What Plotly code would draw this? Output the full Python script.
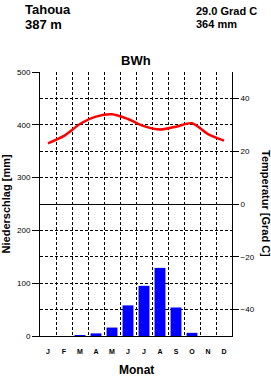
import plotly.graph_objects as go

months = list(range(1, 13))
month_labels = ["J", "F", "M", "A", "M", "J", "J", "A", "S", "O", "N", "D"]
precip_mm = [0, 0, 1, 5, 16, 58, 95, 129, 54, 6, 0, 0]
temp_c = [23.0, 25.8, 30.3, 33.1, 34.0, 32.2, 29.5, 28.2, 29.3, 30.6, 26.5, 24.0]
month_bounds = [1.5, 2.5, 3.5, 4.5, 5.5, 6.5, 7.5, 8.5, 9.5, 10.5, 11.5]
mm_ticks = [0, 100, 200, 300, 400, 500]
mm_minor = [50, 150, 250, 350, 450]
temp_ticks = [-40, -20, 0, 20, 40]

station = "Tahoua"
elevation = "387 m"
mean_temp = "29.0 Grad C"
total_precip = "364 mm"
climate = "BWh"

FONT = "Liberation Sans"
DASH = "3px,2px"

fig = go.Figure()
fig.add_trace(go.Bar(x=months, y=precip_mm, marker=dict(color="#0000FF", line=dict(width=0)),
                     width=0.68, xaxis="x", yaxis="y"))
fig.add_trace(go.Scatter(x=months, y=temp_c, mode="lines", line=dict(color="#FF0000", width=2.5, shape="spline", smoothing=0.8),
                         xaxis="x", yaxis="y2"))

fig.update_layout(
    width=271, height=377,
    margin=dict(l=40, r=39, t=72, b=41),
    paper_bgcolor="white", plot_bgcolor="white",
    showlegend=False,
    font=dict(family=FONT, color="black"),
    xaxis=dict(
        range=[0.5, 12.5], tickmode="array", tickvals=months, ticktext=month_labels,
        showgrid=False, zeroline=False, showline=True, linecolor="black", linewidth=1,
        ticks="outside", ticklen=9, tickcolor="rgba(0,0,0,0)",
        tickfont=dict(size=7, family=FONT, weight="bold"),
        minor=dict(tickmode="array", tickvals=month_bounds, showgrid=True, gridcolor="black",
                   gridwidth=1, griddash=DASH, ticks=""),
        fixedrange=True,
    ),
    yaxis=dict(
        range=[0, 500], tickmode="array", tickvals=mm_ticks,
        showgrid=True, gridcolor="black", gridwidth=1, griddash=DASH,
        zeroline=False, showline=True, linecolor="black", linewidth=1,
        ticks="outside", ticklen=7, tickcolor="black",
        tickfont=dict(size=8, family=FONT),
        minor=dict(tickmode="array", tickvals=mm_minor, showgrid=True, gridcolor="black",
                   gridwidth=1, griddash=DASH, ticks=""),
        fixedrange=True,
    ),
    yaxis2=dict(
        range=[-50, 50], overlaying="y", side="right", anchor="x",
        tickmode="array", tickvals=temp_ticks,
        showgrid=False, zeroline=True, zerolinecolor="black", zerolinewidth=1,
        showline=True, linecolor="black", linewidth=1,
        ticks="outside", ticklen=6, tickcolor="black",
        tickfont=dict(size=8, family=FONT),
        fixedrange=True,
    ),
)

def ann(text, x, y, size, xanchor="left", angle=0, bold=True):
    fig.add_annotation(text=text, x=x, y=y, xref="paper", yref="paper", showarrow=False,
                       xanchor=xanchor, yanchor="middle", textangle=angle, borderpad=0,
                       font=dict(size=size, family=FONT, color="black", weight="bold" if bold else "normal"))

ann(station, -0.085, 1.2386, 13)
ann(elevation, -0.085, 1.1818, 13)
ann(mean_temp, 0.805, 1.232, 11)
ann(total_precip, 0.805, 1.183, 11)
ann(climate, 0.5, 1.045, 13, xanchor="center")
ann("Niederschlag [mm]", -0.175, 0.5, 11, xanchor="center", angle=-90)
ann("Temperatur [Grad C]", 1.177, 0.5, 11, xanchor="center", angle=90)
ann("Monat", 0.5, -0.127, 12, xanchor="center")

fig.write_html("out.html")
